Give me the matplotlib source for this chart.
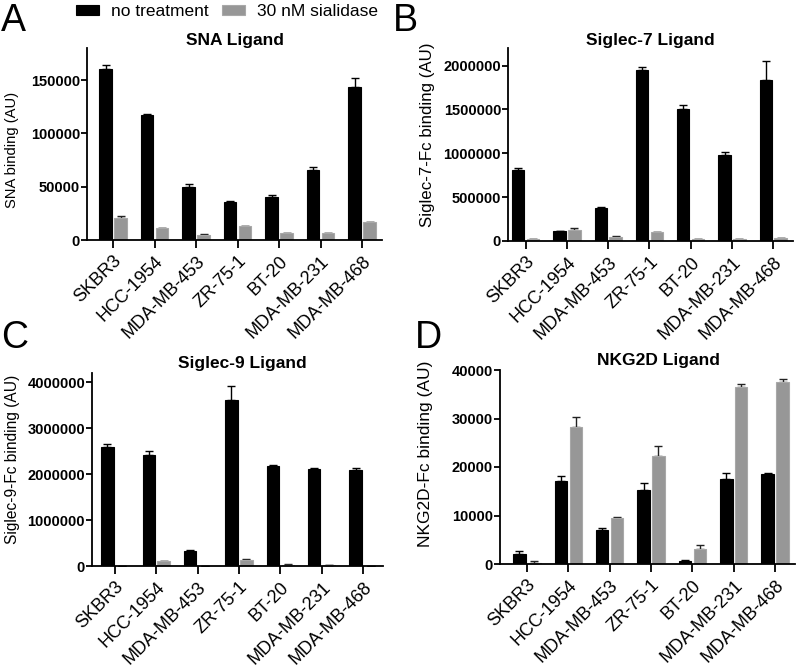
import matplotlib
matplotlib.use('Agg')
import matplotlib.pyplot as plt
import numpy as np
from matplotlib.ticker import FuncFormatter, MultipleLocator

plt.rcParams['font.family'] = ['Liberation Sans', 'DejaVu Sans']

W, H = 796, 666

cells = ['SKBR3', 'HCC-1954', 'MDA-MB-453', 'ZR-75-1', 'BT-20', 'MDA-MB-231', 'MDA-MB-468']
series_names = ['no treatment', '30 nM sialidase']

# panel A - SNA
sna_ctrl = [160000, 117000, 49500, 35800, 40000, 66000, 143000]
sna_ctrl_err = [4000, 800, 3300, 800, 2300, 2200, 8500]
sna_sial = [21000, 11000, 5000, 13000, 6500, 6500, 16500]
sna_sial_err = [1500, 500, 300, 500, 300, 300, 500]

# panel B - Siglec-7
s7_ctrl = [815000, 115000, 381000, 1953000, 1500000, 986000, 1835000]
s7_ctrl_err = [20000, 3000, 8000, 27000, 46000, 23000, 220000]
s7_sial = [23000, 130000, 50000, 105000, 23000, 19000, 34000]
s7_sial_err = [5000, 15000, 3000, 3000, 3000, 2000, 3000]

# panel C - Siglec-9
s9_ctrl = [2600000, 2410000, 333000, 3620000, 2170000, 2120000, 2090000]
s9_ctrl_err = [50000, 90000, 10000, 290000, 35000, 20000, 40000]
s9_sial = [5000, 109000, 3000, 135000, 30000, 12000, 3000]
s9_sial_err = [2000, 5000, 1000, 20000, 3000, 2000, 1000]

# panel D - NKG2D
nk_ctrl = [2100, 17200, 7100, 15300, 550, 17500, 18600]
nk_ctrl_err = [600, 1000, 250, 1400, 350, 1200, 150]
nk_sial = [250, 28200, 9400, 22200, 3000, 36500, 37500]
nk_sial_err = [400, 2200, 350, 2200, 900, 600, 550]

black = '#000000'
grey = '#979797'


def box(left, right, top, bottom):
    return [left / W, 1 - bottom / H, (right - left) / W, (bottom - top) / H]


fig = plt.figure(figsize=(W / 100, H / 100), dpi=100)

panels = [
    # letter, title, ylabel, data, ylim, step, axes box, xlim-left, letter pos, title x, title pad,
    # ylabel coords, ylabel size
    ('A', 'SNA Ligand', 'SNA binding (AU)', (sna_ctrl, sna_ctrl_err, sna_sial, sna_sial_err),
     180000, 50000, box(87, 382, 48, 240), -0.63, (1, 3), 0.5, 0.5, (-0.232, 0.47), 10.6),
    ('B', 'Siglec-7 Ligand', 'Siglec-7-Fc binding (AU)', (s7_ctrl, s7_ctrl_err, s7_sial, s7_sial_err),
     2200000, 500000, box(508, 793, 48, 241), -0.43, (393, 3), 0.5, 0.5, (-0.256, 0.55), 12.2),
    ('C', 'Siglec-9 Ligand', 'Siglec-9-Fc binding (AU)', (s9_ctrl, s9_ctrl_err, s9_sial, s9_sial_err),
     4200000, 1000000, box(92, 383, 373, 566), -0.55, (1, 320), 0.515, 3.5, (-0.247, 0.55), 11.2),
    ('D', 'NKG2D Ligand', 'NKG2D-Fc binding (AU)', (nk_ctrl, nk_ctrl_err, nk_sial, nk_sial_err),
     40000, 10000, box(500, 795, 370, 564), -0.65, (415, 320), 0.536, 3.5, (-0.227, 0.57), 12.5),
]

x = np.arange(len(cells))
bw = 0.3
off = 0.18
handles = None

for (letter, title, ylabel, data, ytop, step, pos, xl, lpos, tx, tpad, lab, lsize) in panels:
    ctrl, ctrl_err, sial, sial_err = data
    ax = fig.add_axes(pos)
    b1 = ax.bar(x - off, ctrl, bw, color=black, edgecolor=black, linewidth=0.8, zorder=2)
    b2 = ax.bar(x + off, sial, bw, color=grey, edgecolor='#a8a8a8', linewidth=0.8, zorder=2)
    ax.errorbar(x - off, ctrl, yerr=[np.zeros(len(x)), ctrl_err], fmt='none',
                ecolor=black, elinewidth=1.0, capsize=3, capthick=1.0, zorder=1)
    ax.errorbar(x + off, sial, yerr=[np.zeros(len(x)), sial_err], fmt='none',
                ecolor='#222222', elinewidth=1.0, capsize=3, capthick=1.0, zorder=1)
    if handles is None:
        handles = [b1, b2]

    ax.set_ylim(0, ytop)
    ax.set_xlim(xl, 6.48)
    ax.yaxis.set_major_locator(MultipleLocator(step))
    ax.yaxis.set_major_formatter(FuncFormatter(lambda v, p: '%d' % int(round(v))))
    ax.set_xticks(x)
    ax.set_xticklabels(cells, rotation=45, ha='right', va='top', rotation_mode='anchor', fontsize=13)
    for t in ax.get_yticklabels():
        t.set_fontweight('bold')
        t.set_fontsize(10.5)
    ax.tick_params(axis='y', direction='out', length=4, width=1.3, pad=1)
    ax.tick_params(axis='x', direction='out', length=6, width=1.3, pad=3)
    for s in ['top', 'right']:
        ax.spines[s].set_visible(False)
    for s in ['left', 'bottom']:
        ax.spines[s].set_linewidth(1.3)
    ax.set_ylabel(ylabel, fontsize=lsize)
    ax.yaxis.set_label_coords(lab[0], lab[1])
    ax.set_title(title, fontsize=12.5, fontweight='bold', x=tx, pad=tpad)
    fig.text(lpos[0] / W, 1 - lpos[1] / H, letter, fontsize=27, ha='left', va='top')

fig.legend(handles, series_names, loc='center', ncol=2, frameon=False,
           bbox_to_anchor=(227 / W, 1 - 12 / H), fontsize=12.5,
           handlelength=1.3, handleheight=0.5, handletextpad=0.7, columnspacing=0.8,
           borderaxespad=0, borderpad=0)

fig.savefig('out.png', dpi=100)
